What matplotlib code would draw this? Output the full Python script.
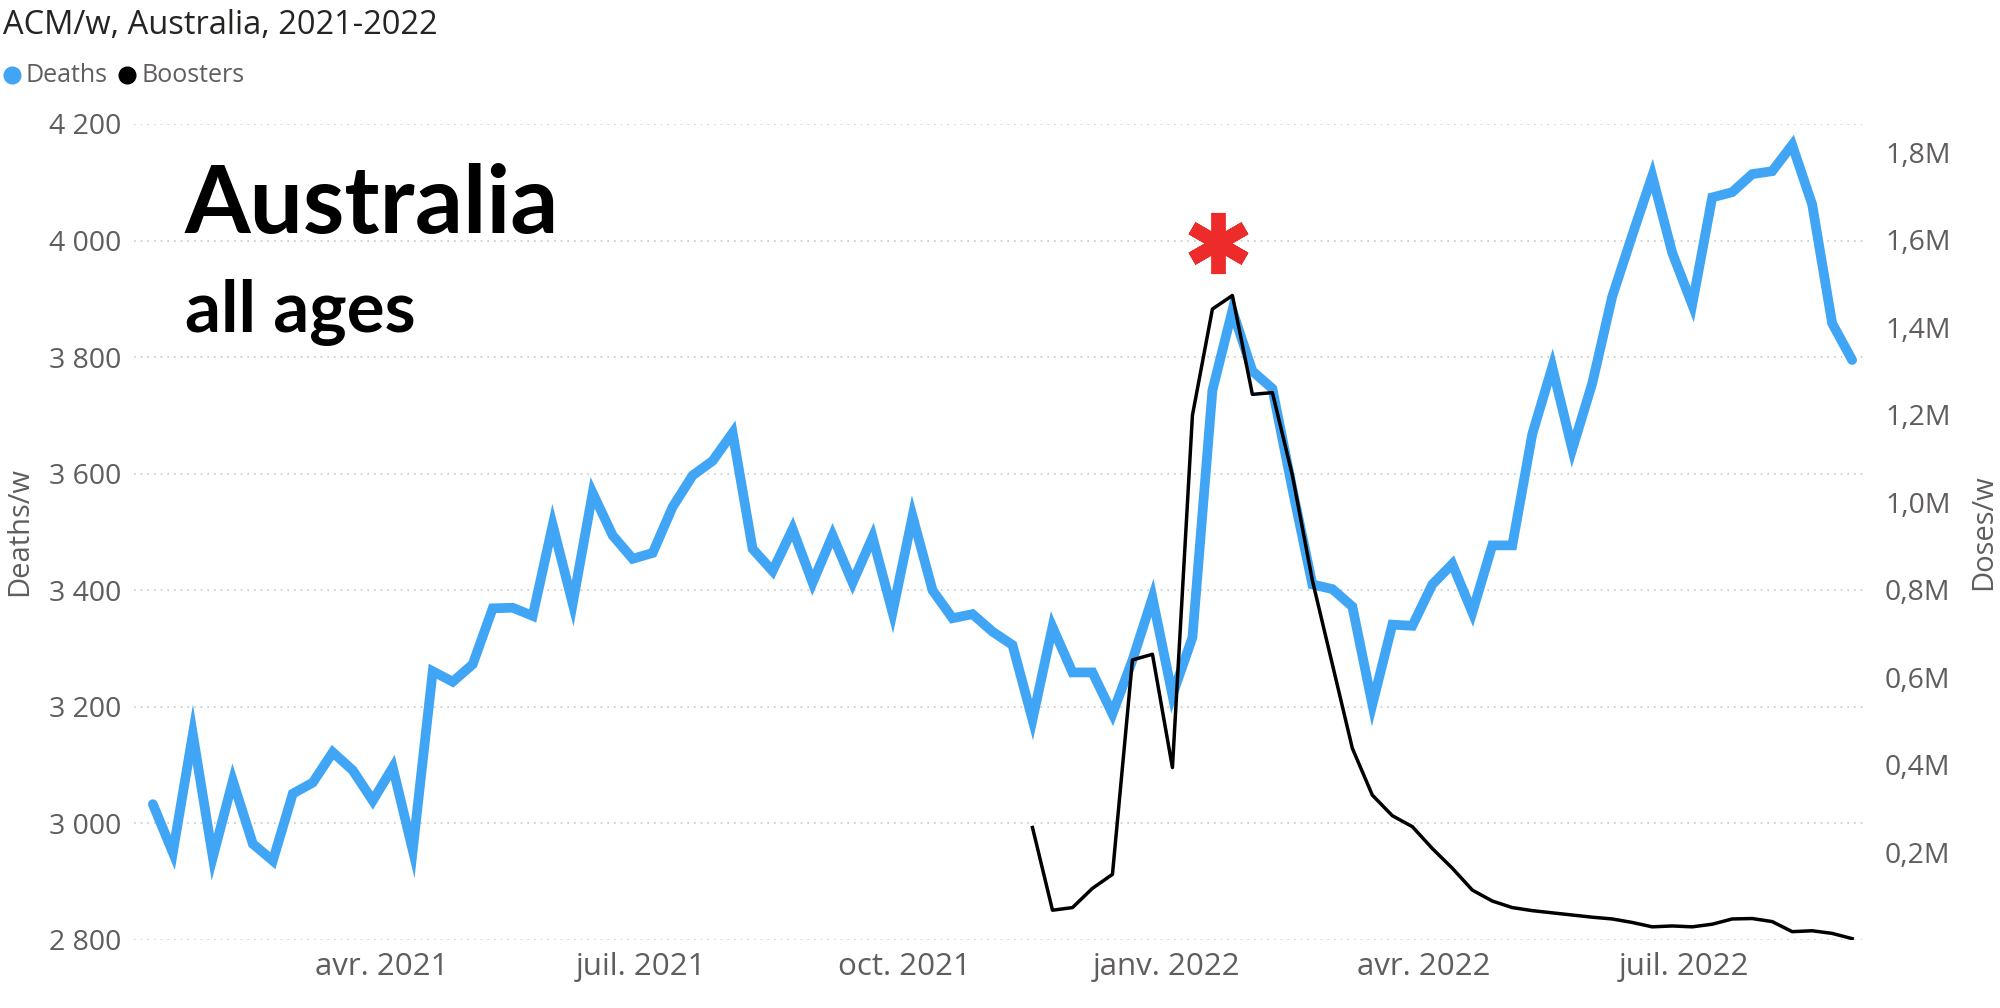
import pandas as pd
import matplotlib
matplotlib.use("Agg")
import matplotlib.pyplot as plt
from matplotlib.lines import Line2D
from matplotlib.ticker import FixedLocator, FuncFormatter

plt.rcParams['font.family'] = ['Open Sans', 'DejaVu Sans']

# weekly all-cause deaths, Australia
first_week = "2021-01-11"
deaths = [3033, 2950, 3153, 2942, 3073, 2965, 2936, 3051, 3070, 3122,
          3091, 3039, 3096, 2954, 3261, 3243, 3273, 3369, 3370, 3356,
          3512, 3377, 3567, 3494, 3454, 3464, 3543, 3597, 3622, 3670,
          3471, 3433, 3505, 3413, 3494, 3413, 3491, 3362, 3527, 3400,
          3352, 3359, 3329, 3306, 3178, 3337, 3259, 3259, 3188, 3280,
          3387, 3220, 3319, 3743, 3880, 3776, 3746, 3574, 3410, 3402,
          3372, 3204, 3341, 3339, 3410, 3445, 3362, 3477, 3477, 3668,
          3783, 3642, 3755, 3904, 4009, 4111, 3979, 3890, 4074, 4083,
          4114, 4119, 4164, 4062, 3858, 3795]

# weekly booster doses (millions), starting at week 44 of the deaths series
booster_start = 44
boosters = [0.257, 0.068, 0.074, 0.118, 0.150, 0.640, 0.653, 0.394, 1.199, 1.442,
            1.473, 1.247, 1.251, 1.062, 0.822, 0.630, 0.438, 0.331, 0.284, 0.259,
            0.209, 0.164, 0.114, 0.089, 0.074, 0.067, 0.062, 0.057, 0.052, 0.048,
            0.040, 0.030, 0.032, 0.030, 0.036, 0.048, 0.049, 0.042, 0.019, 0.021,
            0.015, 0.003]

month_ticks = ["2021-04-01", "2021-07-01", "2021-10-01", "2022-01-01", "2022-04-01", "2022-07-01"]
month_labels = ["avr. 2021", "juil. 2021", "oct. 2021", "janv. 2022", "avr. 2022", "juil. 2022"]
death_ticks = [2800, 3000, 3200, 3400, 3600, 3800, 4000, 4200]
dose_ticks = [0.2, 0.4, 0.6, 0.8, 1.0, 1.2, 1.4, 1.6, 1.8]

blue = '#41a5f5'
grey = '#605e5c'
W, H = 2000, 1008

weeks = pd.date_range(first_week, periods=len(deaths), freq="7D")
booster_weeks = weeks[booster_start:booster_start + len(boosters)]

fig = plt.figure(figsize=(20, 10.08), dpi=100)
ax = fig.add_axes([0.067, 0.0675, 0.8665, 0.8095])
ax2 = ax.twinx()

ax.plot(weeks, deaths, color=blue, lw=7, solid_joinstyle='miter', solid_capstyle='round')
ax2.plot(booster_weeks, boosters, color='black', lw=2.5)

ax.set_xlim(weeks[0] - pd.Timedelta(days=6.6), weeks[-1] + pd.Timedelta(days=5.2))
ax.set_ylim(2800, 4200)
ax2.set_ylim(0, 1.865)

ax.yaxis.set_major_locator(FixedLocator(death_ticks))
ax.yaxis.set_major_formatter(FuncFormatter(lambda v, p: f"{int(v):,}".replace(',', ' ')))
ax2.yaxis.set_major_locator(FixedLocator(dose_ticks))
ax2.yaxis.set_major_formatter(FuncFormatter(lambda v, p: f"{v:.1f}M".replace('.', ',')))
ax.set_xticks(pd.to_datetime(month_ticks))
ax.set_xticklabels(month_labels)

ax.grid(axis='y', linestyle=(0, (1, 3)), color='#c8c8c8', lw=1.2)
ax.set_axisbelow(True)
for a in (ax, ax2):
    for s in a.spines.values():
        s.set_visible(False)
ax.tick_params(axis='y', length=0, labelsize=20.5, labelcolor=grey, pad=9)
ax.tick_params(axis='x', length=0, labelsize=22.5, labelcolor=grey, pad=9)
ax2.tick_params(axis='y', length=0, labelsize=20.5, labelcolor=grey, pad=13)

ax.set_ylabel('Deaths/w', fontsize=21, color=grey, va='center')
ax.yaxis.set_label_coords(-0.0658, 0.5)
ax2.set_ylabel('Doses/w', fontsize=21, color=grey, va='center')
ax2.yaxis.set_label_coords(1.0672, 0.5)

# title and legend
fig.text(3 / W, 1 - 25 / H, 'ACM/w, Australia, 2021-2022', fontsize=23.5,
         color='#252423', va='center', ha='left')
legend_y = 1 - 75 / H
fig.add_artist(Line2D([12 / W], [legend_y], marker='o', ls='', color=blue,
                      markersize=12, transform=fig.transFigure))
fig.add_artist(Line2D([127 / W], [legend_y], marker='o', ls='', color='black',
                      markersize=12, transform=fig.transFigure))
fig.text(25 / W, legend_y, 'Deaths', fontsize=18, color=grey, va='center', ha='left')
fig.text(142 / W, legend_y, 'Boosters', fontsize=18, color=grey, va='center', ha='left')

# annotations
fig.text(185 / W, 1 - 233 / H, 'Australia', family='Lato', fontweight='bold',
         fontsize=68, va='baseline', ha='left')
fig.text(185 / W, 1 - 332 / H, 'all ages', family='Lato', fontweight='bold',
         fontsize=51, va='baseline', ha='left')
ax.plot([weeks[0] + pd.Timedelta(days=7 * 53.3)], [3995], marker=(6, 2, 0),
        markersize=44, markeredgewidth=10, color='#ee2b2b', clip_on=False,
        solid_capstyle='round')

fig.savefig('out.png', dpi=100)
